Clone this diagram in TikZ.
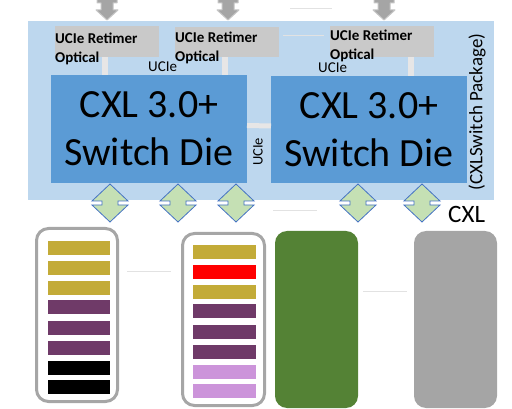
\documentclass[tikz,border=0pt]{standalone}
\usepackage{fontspec}
\setmainfont{Carlito}
\definecolor{pkgblue}{HTML}{BDD7EE}
\definecolor{dieblue}{HTML}{5B9BD5}
\definecolor{retgray}{HTML}{C9C9C9}
\definecolor{linkgray}{HTML}{E7E6E6}
\definecolor{olive}{HTML}{C3AB38}
\definecolor{plum}{HTML}{6F3A68}
\definecolor{lavender}{HTML}{CC94DA}
\definecolor{memgreen}{HTML}{548235}
\definecolor{memgray}{HTML}{A5A5A5}
\definecolor{rimgray}{HTML}{A6A6A6}
\definecolor{arrfill}{HTML}{C5E0B4}
\definecolor{arrline}{HTML}{4472C4}
\definecolor{faintline}{HTML}{E2E2E2}
\begin{document}
\begin{tikzpicture}[x=1pt,y=-1pt,
  box/.style={inner sep=0pt, outer sep=0pt, anchor=north west},
  pkgbox/.style={box, fill=pkgblue},
  diebox/.style={box, fill=dieblue, align=center, font=\fontsize{40}{48}\selectfont},
  retbox/.style={box, fill=retgray},
  rettext/.style={inner sep=0pt, anchor=north west, align=left, font=\fontsize{15}{19}\selectfont\bfseries},
  ucie/.style={inner sep=0pt, font=\fontsize{15}{18}\selectfont},
  uclink/.style={draw=linkgray, line width=6pt},
  modbox/.style={box, draw=rimgray, line width=3pt, fill=white, rounded corners=12pt},
  memblock/.style={box, rounded corners=12pt},
  faint/.style={draw=faintline, line width=1pt},
  toparrow/.style={fill=memgray, draw=gray!45, line width=1pt, line join=round},
  dia/.style={fill=arrfill, draw=arrline, line width=0.8pt, line join=miter},
  updown/.pic={\path[dia] (0,-19) -- (18,-2) -- (8,-2) -- (8,2) -- (18,2) -- (0,19)
      -- (-18,2) -- (-8,2) -- (-8,-2) -- (-18,-2) -- cycle;},
  optarrow/.pic={\path[toparrow] (-10,-1) -- (-10,3) -- (-6,3) -- (-6,10) -- (-11,10)
      -- (0,20) -- (11,10) -- (6,10) -- (6,3) -- (10,3) -- (10,-1) -- cycle;}
]
\useasboundingbox (0,0) rectangle (512,409);

% stray guide lines
\coordinate (g1a) at (290,9);   \coordinate (g1b) at (332,9);
\coordinate (g2a) at (283,36);  \coordinate (g2b) at (324,36);
\coordinate (g3a) at (127,272); \coordinate (g3b) at (171,272);
\coordinate (g4a) at (273,211); \coordinate (g4b) at (317,211);
\coordinate (g5a) at (363,291); \coordinate (g5b) at (407,291);

% package
\node[pkgbox, minimum width=466pt, minimum height=179pt] (pkg) at (28,21) {};
\node[inner sep=0pt, rotate=90, font=\fontsize{19}{22}\selectfont] (pkglabel) at (477,112) {(CXLSwitch Package)};

% optical links leaving the package
\foreach \cx in {107,228,384} \pic at (\cx,0) {optarrow};
\draw[faint] (g1a) -- (g1b);
\draw[faint] (g2a) -- (g2b);

% retimers
\node[retbox, minimum width=104pt, minimum height=31pt] (ret1) at (55,26) {};
\node[retbox, minimum width=104pt, minimum height=30pt] (ret2) at (175,27) {};
\node[retbox, minimum width=104pt, minimum height=31pt] (ret3) at (330,26) {};
\node[rettext] (rt1) at (55,33) {UCIe Retimer\\Optical};
\node[rettext] (rt2) at (175,32) {UCIe Retimer\\Optical};
\node[rettext] (rt3) at (330,30) {UCIe Retimer\\Optical};

% switch dies
\node[diebox, minimum width=196pt, minimum height=108pt] (die1) at (51,75) {CXL 3.0+\\Switch Die};
\node[diebox, minimum width=196pt, minimum height=107pt] (die2) at (271,76) {CXL 3.0+\\Switch Die};

% UCIe links
\draw[uclink] ([xshift=-2pt]ret1.south) -- ([xshift=-2pt]ret1.south |- die1.north);
\draw[uclink] ([xshift=-2pt]ret2.south) -- ([xshift=-2pt]ret2.south |- die1.north);
\draw[uclink] ([xshift=29pt]ret3.south) -- ([xshift=29pt]ret3.south |- die2.north);
\draw[draw=linkgray, line width=5pt] ([yshift=3.5pt]die1.east) -- ([yshift=3.5pt]die2.west);
\node[ucie, anchor=base west] (u1) at (148,72) {UCIe};
\node[ucie, anchor=base west] (u2) at (318,73) {UCIe};
\node[ucie, rotate=90, font=\fontsize{14.5}{17}\selectfont] (u3) at (258,152) {UCIe};

% CXL ports
\foreach \cx in {110,178,236,358,422} \pic at (\cx,203) {updown};
\node[inner sep=0pt, anchor=base west, font=\fontsize{25}{30}\selectfont] (cxl) at (448,223) {CXL};

% memory devices
\node[modbox, minimum width=81pt, minimum height=173pt] (mod1) at (36.5,228.5) {};
\node[modbox, minimum width=82pt, minimum height=172pt] (mod2) at (182.5,233.5) {};
\node[memblock, fill=memgreen, minimum width=83pt, minimum height=177pt] (mem3) at (275,231) {};
\node[memblock, fill=memgray, minimum width=83pt, minimum height=177pt] (mem4) at (414,231) {};

\foreach \y/\c in {241/olive,261/olive,281/olive,300/plum,321/plum,341/plum,361/black,380/black}
  \fill[\c] (48,\y) rectangle ++(62,14);
\foreach \y/\c in {245/olive,265/red,285/olive,304/plum,325/plum,345/plum,365/lavender,384/lavender}
  \fill[\c] (193,\y) rectangle ++(63,14);

\draw[faint] (g3a) -- (g3b);
\draw[faint] (g4a) -- (g4b);
\draw[faint] (g5a) -- (g5b);
\end{tikzpicture}
\end{document}
